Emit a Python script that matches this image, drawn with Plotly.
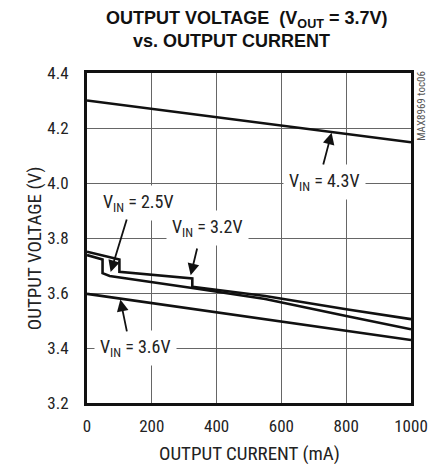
import plotly.graph_objects as go

# Output voltage vs output current for several input voltages (VOUT = 3.7V)
current_43 = [0, 1000]
vout_43 = [4.300, 4.148]

current_36 = [0, 1000]
vout_36 = [3.597, 3.429]

current_32 = [0, 100, 100, 325, 325, 550, 800, 1000]
vout_32 = [3.750, 3.722, 3.677, 3.653, 3.623, 3.589, 3.541, 3.505]

current_25 = [0, 48, 48, 70, 330, 550, 800, 1000]
vout_25 = [3.738, 3.722, 3.672, 3.662, 3.617, 3.578, 3.516, 3.468]

x_ticks = [0, 200, 400, 600, 800, 1000]
y_ticks = [3.2, 3.4, 3.6, 3.8, 4.0, 4.2, 4.4]

FONT = "Roboto Condensed, Liberation Sans Narrow, Arial Narrow, sans-serif"
TITLE_FONT = "Liberation Sans, Arial, sans-serif"
INK = "#222222"

fig = go.Figure()
for xs, ys in [(current_43, vout_43), (current_36, vout_36),
               (current_32, vout_32), (current_25, vout_25)]:
    fig.add_trace(go.Scatter(x=xs, y=ys, mode="lines",
                             line=dict(color="#111111", width=2.6),
                             showlegend=False, hoverinfo="skip"))

# curve labels: (text, label x, label y, arrow start x, y, arrow tip x, y)
labels = [
    ("V<sub>IN</sub> = 4.3V", 734, 4.004, 728, 4.062, 755, 4.183),
    ("V<sub>IN</sub> = 2.5V", 160, 3.927, 124, 3.873, 73, 3.676),
    ("V<sub>IN</sub> = 3.2V", 372, 3.836, 341, 3.767, 320, 3.665),
    ("V<sub>IN</sub> = 3.6V", 151, 3.400, 124, 3.455, 103, 3.576),
]

annotations = []
for text, lx, ly, ax, ay, tx, ty in labels:
    annotations.append(dict(
        x=lx, y=ly, xref="x", yref="y", text=text, showarrow=False,
        xanchor="center", yanchor="middle",
        font=dict(family=FONT, size=18, color=INK),
        bgcolor="white", borderpad=5))
    annotations.append(dict(
        x=tx, y=ty, xref="x", yref="y", ax=ax, ay=ay, axref="x", ayref="y",
        text="", showarrow=True, arrowhead=2, arrowsize=1.3, arrowwidth=1.8,
        arrowcolor="#111111"))


def px_x(px):
    return (px - 87) / 331


def px_y(py):
    return (403 - py) / 330


# titles and side text
annotations += [
    dict(x=px_x(250), y=px_y(20), xref="paper", yref="paper",
         xanchor="center", yanchor="middle",
         text="<b>OUTPUT VOLTAGE  (V<sub>OUT</sub> = 3.7V)</b>", showarrow=False,
         font=dict(family=TITLE_FONT, size=18, color="#111111")),
    dict(x=px_x(235), y=px_y(41), xref="paper", yref="paper",
         xanchor="center", yanchor="middle",
         text="<b>vs. OUTPUT CURRENT</b>", showarrow=False,
         font=dict(family=TITLE_FONT, size=18, color="#111111")),
    dict(x=px_x(253), y=px_y(453), xref="paper", yref="paper",
         xanchor="center", yanchor="middle",
         text="OUTPUT CURRENT (mA)", showarrow=False,
         font=dict(family=FONT, size=19, color=INK)),
    dict(x=px_x(33), y=px_y(248), xref="paper", yref="paper",
         xanchor="center", yanchor="middle",
         text="OUTPUT VOLTAGE (V)", showarrow=False, textangle=-90,
         font=dict(family=FONT, size=19, color=INK)),
    dict(x=px_x(428), y=px_y(106), xref="paper", yref="paper",
         xanchor="center", yanchor="middle",
         text="MAX8969 toc06", showarrow=False, textangle=-90,
         font=dict(family=FONT, size=11, color="#555555")),
]

axis_common = dict(
    showline=True, linecolor="#111111", linewidth=3, mirror=True,
    showgrid=True, gridcolor="#666666", gridwidth=1,
    zeroline=False, ticks="",
    tickfont=dict(family=FONT, size=17, color=INK),
)

fig.update_layout(
    width=440, height=464,
    margin=dict(l=87, r=22, t=73, b=61),
    paper_bgcolor="white", plot_bgcolor="white",
    xaxis=dict(range=[0, 1000], tickvals=x_ticks, ticklabelstandoff=6,
               **axis_common),
    yaxis=dict(range=[3.2, 4.4], tickvals=y_ticks, tickformat=".1f",
               ticklabelstandoff=12, **axis_common),
    annotations=annotations,
    showlegend=False,
)

fig.write_html("out.html")
